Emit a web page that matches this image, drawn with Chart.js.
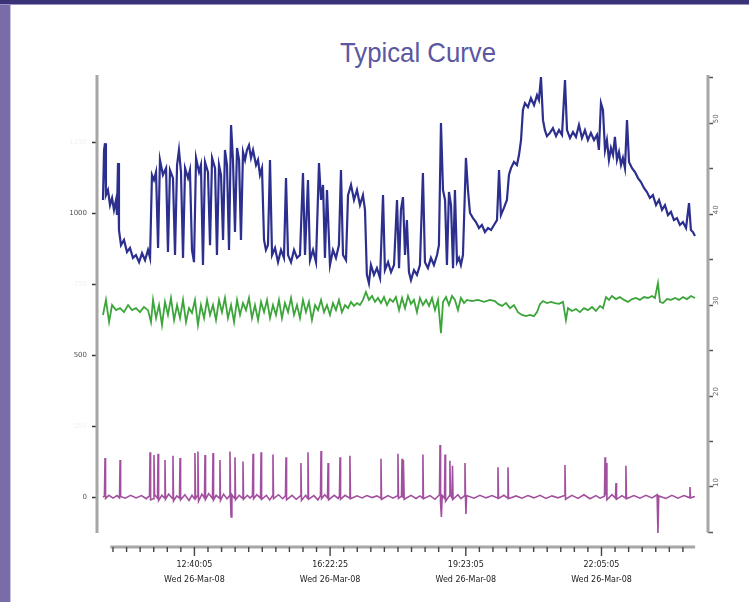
<!DOCTYPE html>
<html>
<head>
<meta charset="utf-8">
<script src="https://cdn.jsdelivr.net/npm/chart.js@4.4.1/dist/chart.umd.min.js"></script>
<style>
html, body { margin: 0; padding: 0; background: #fff; }
#page { position: relative; width: 749px; height: 602px; overflow: hidden; background: #fff; }
#topbar { position: absolute; left: 0; top: 0; width: 749px; height: 4px; background: #3b3377; border-bottom: 1px solid #9a92c4; }
#side { position: absolute; left: 0; top: 0; width: 10px; height: 602px; background: #7a6ca8; border-right: 1px solid #c9c2e2; }
#title { position: absolute; left: 340px; top: 39px; font: 28px "Liberation Sans", Arial, sans-serif; line-height: 28px;
         color: #5b57a0; transform: scaleX(0.92); transform-origin: left top; white-space: nowrap; }
canvas { position: absolute; left: 0; top: 0; }
</style>
</head>
<body>
<div id="page">
	<div id="side"></div>
	<div id="topbar"></div>
	<div id="title">Typical Curve</div>
	<canvas id="curve" width="749" height="602"></canvas>
</div>
<script>
// time axis is in tick steps (one minor tick per step)
var majorTicks = [6, 16, 26, 36];
var timeLabels = ['12:40:05', '16:22:25', '19:23:05', '22:05:05'];
var dateLabels = ['Wed 26-Mar-08', 'Wed 26-Mar-08', 'Wed 26-Mar-08', 'Wed 26-Mar-08'];
var leftTicks = [0, 250, 500, 750, 1000, 1250];
var leftLabelled = [0, 500, 1000];
var rightTicks = [5, 10, 15, 20, 25, 30, 35, 40, 45, 50, 55];
var rightLabelled = [10, 20, 30, 40, 50];

var blueTime = [
	-0.74, -0.66, -0.59, -0.52, -0.37, -0.22, -0.07, 0.07, 0.22, 0.29, 0.37, 0.44,
	0.59, 0.81, 1.03, 1.25, 1.47, 1.69, 1.92, 2.14, 2.36, 2.58, 2.73,
	2.87, 3.02, 3.17, 3.32, 3.46, 3.68, 3.91, 4.05, 4.20, 4.42, 4.57, 4.72, 4.86, 5.01,
	5.16, 5.31, 5.53, 5.67, 5.82, 5.97, 6.12, 6.34, 6.48, 6.63, 6.78, 7.00, 7.15, 7.30,
	7.52, 7.66, 7.81, 7.96, 8.11, 8.25, 8.40, 8.55, 8.70, 8.84, 8.99, 9.14, 9.29, 9.43,
	9.58, 9.73, 9.87, 10.02, 10.17, 10.32, 10.54, 10.69, 10.83, 10.98, 11.13, 11.27, 11.42,
	11.57, 11.72, 11.94, 12.16, 12.38, 12.60, 12.75, 12.90, 13.12, 13.34, 13.56, 13.78,
	14.00, 14.15, 14.37, 14.52, 14.74, 14.96, 15.18, 15.33, 15.48, 15.62, 15.77, 15.99,
	16.21, 16.43, 16.65, 16.80, 16.95, 17.17, 17.32, 17.54, 17.76, 17.98, 18.20, 18.42,
	18.57, 18.71, 18.86, 19.01, 19.23, 19.45, 19.68, 19.90, 20.04, 20.27, 20.49, 20.71,
	20.93, 21.08, 21.22, 21.37, 21.52, 21.66, 21.81, 21.96, 22.18, 22.40, 22.62, 22.84,
	22.99, 23.21, 23.43, 23.65, 23.88, 24.02, 24.17, 24.32, 24.47, 24.61, 24.76, 24.91,
	25.06, 25.20, 25.35, 25.50, 25.64, 25.79, 26.01, 26.16, 26.31, 26.53, 26.75, 26.97,
	27.19, 27.41, 27.64, 27.86, 28.08, 28.30, 28.45, 28.59, 28.81, 29.03, 29.18, 29.33,
	29.55, 29.77, 29.92, 30.07, 30.21, 30.36, 30.58, 30.80, 31.03, 31.25, 31.39, 31.54,
	31.69, 31.83, 31.98, 32.20, 32.42, 32.65, 32.87, 33.09, 33.31, 33.46, 33.68, 33.90,
	34.12, 34.34, 34.56, 34.78, 35.00, 35.22, 35.45, 35.67, 35.81, 35.96, 36.11, 36.26,
	36.40, 36.55, 36.70, 36.85, 36.99, 37.14, 37.29, 37.44, 37.58, 37.73, 37.88, 38.03,
	38.25, 38.47, 38.69, 38.91, 39.13, 39.35, 39.57, 39.79, 40.02, 40.24, 40.46, 40.68,
	40.90, 41.12, 41.34, 41.56, 41.78, 42.00, 42.23, 42.45, 42.59, 42.74, 42.89
];
var blueLevel = [
	1046, 1222, 1246, 1063, 1081, 1028, 1053, 1011, 1046, 993, 1176, 940,
	887, 905, 863, 877, 842, 852, 827, 859, 834, 870, 842,
	1134, 1116, 1144, 877, 1187, 1134, 1158, 863, 1151, 1123, 852, 1169, 1222, 1144,
	842, 1158, 1123, 1151, 870, 827, 1194, 1144, 1169, 817, 1180, 1144, 887, 1194,
	1158, 852, 1169, 1134, 905, 1222, 1169, 870, 1310, 1187, 933, 1229, 1187, 905,
	1215, 1187, 1222, 1239, 1194, 1222, 1169, 1187, 1134, 1158, 905, 870, 887,
	1187, 852, 877, 827, 870, 842, 1123, 852, 827, 870, 842, 852,
	1141, 852, 1116, 834, 870, 827, 1176, 1046, 1099, 842, 1081, 817,
	870, 842, 887, 1151, 852, 834, 1063, 1099, 1046, 1081, 1028, 1063,
	1011, 782, 753, 817, 782, 806, 771, 1063, 799, 827, 792, 817,
	1046, 806, 1011, 1056, 852, 975, 792, 764, 799, 782, 817, 1141,
	827, 806, 842, 817, 852, 887, 1317, 1081, 1046, 817, 1074, 1028,
	806, 1081, 827, 842, 817, 852, 1194, 1081, 1000, 982, 968, 947,
	958, 933, 947, 940, 958, 975, 1151, 993, 1018, 1046, 1134, 1158,
	1180, 1169, 1204, 1257, 1363, 1387, 1373, 1405, 1380, 1415, 1398, 1479,
	1327, 1292, 1271, 1282, 1299, 1271, 1292, 1275, 1468, 1292, 1264, 1285,
	1268, 1310, 1264, 1292, 1257, 1282, 1257, 1275, 1222, 1387, 1363, 1222,
	1257, 1187, 1229, 1204, 1268, 1187, 1215, 1169, 1194, 1158, 1327, 1180,
	1158, 1144, 1123, 1109, 1088, 1074, 1053, 1063, 1028, 1046, 1011, 1028,
	993, 1004, 975, 982, 958, 968, 947, 1035, 940, 933, 919
];

var greenTime = [
	-0.74, -0.52, -0.29, -0.07, 0.22, 0.52, 0.81, 1.11, 1.40, 1.69, 1.99, 2.28, 2.58,
	2.80, 2.95, 3.17, 3.39, 3.61, 3.83, 4.05, 4.27, 4.50, 4.72, 4.94, 5.16, 5.38, 5.60,
	5.82, 6.04, 6.26, 6.48, 6.71, 6.93, 7.15, 7.37, 7.59, 7.81, 8.03, 8.25, 8.47, 8.70,
	8.92, 9.14, 9.36, 9.58, 9.80, 10.02, 10.24, 10.46, 10.69, 10.91, 11.13, 11.35, 11.57,
	11.79, 12.01, 12.23, 12.45, 12.67, 12.90, 13.12, 13.34, 13.56, 13.78, 14.00, 14.22,
	14.44, 14.66, 14.89, 15.11, 15.33, 15.55, 15.77, 15.99, 16.21, 16.43, 16.65, 16.87,
	17.10, 17.32, 17.54, 17.76, 17.98, 18.20, 18.42, 18.64, 18.86, 19.09, 19.31, 19.53,
	19.75, 19.97, 20.19, 20.41, 20.63, 20.85, 21.08, 21.30, 21.52, 21.74, 21.96, 22.18,
	22.40, 22.62, 22.84, 23.07, 23.29, 23.51, 23.73, 23.95, 24.17, 24.32, 24.54, 24.76,
	24.98, 25.20, 25.42, 25.64, 25.87, 26.09, 26.45, 26.90, 27.34, 27.78, 28.15, 28.37,
	28.67, 28.96, 29.26, 29.55, 29.84, 30.14, 30.43, 30.73, 31.02, 31.25, 31.47, 31.69,
	31.98, 32.28, 32.57, 32.87, 33.16, 33.38, 33.53, 33.82, 34.12, 34.41, 34.71, 35.00,
	35.30, 35.59, 35.89, 36.11, 36.33, 36.55, 36.77, 37.07, 37.36, 37.66, 37.95, 38.25,
	38.54, 38.83, 39.13, 39.43, 39.72, 39.94, 40.16, 40.31, 40.53, 40.83, 41.12, 41.42,
	41.71, 42.01, 42.30, 42.60, 42.89
];
var greenLevel = [
	641, 694, 616, 676, 658, 665, 651, 676, 658, 665, 651, 669, 658,
	616, 694, 630, 676, 606, 687, 641, 701, 623, 676, 630, 694, 616, 665,
	648, 694, 606, 676, 630, 694, 641, 676, 623, 694, 651, 701, 630, 676,
	616, 694, 641, 683, 658, 701, 630, 676, 623, 687, 651, 694, 630,
	676, 641, 694, 630, 683, 651, 701, 641, 676, 630, 694, 651,
	687, 623, 676, 658, 694, 651, 676, 641, 683, 658, 694, 651,
	676, 665, 687, 673, 683, 676, 694, 722, 694, 708, 687, 701,
	683, 704, 676, 697, 687, 704, 658, 701, 665, 708, 680, 694,
	651, 701, 676, 694, 673, 701, 658, 694, 577, 687, 704, 676,
	708, 694, 658, 701, 683, 694, 690, 694, 687, 694, 690, 680,
	673, 683, 665, 676, 651, 641, 637, 641, 637, 651, 680, 690,
	683, 687, 683, 680, 687, 623, 665, 655, 662, 651, 665, 658,
	669, 655, 673, 665, 704, 694, 708, 697, 704, 694, 687, 697,
	701, 694, 704, 701, 708, 701, 753, 687, 683, 697, 694, 701,
	694, 704, 697, 708, 701
];

var purpleTime = [
	-0.74, -0.63, -0.59, -0.55, -0.30, 0.00, 0.30, 0.48, 0.52, 0.56, 0.90, 1.30, 1.70,
	2.10, 2.45, 2.69, 2.73, 2.77, 2.98, 3.02, 3.06, 3.28, 3.32, 3.36, 3.60, 3.79, 3.83,
	3.87, 4.10, 4.38, 4.42, 4.46, 4.70, 4.90, 4.94, 4.98, 5.30, 5.60, 5.82, 6.00, 6.04,
	6.08, 6.22, 6.26, 6.30, 6.55, 6.74, 6.78, 6.82, 7.05, 7.33, 7.37, 7.41, 7.60, 7.84,
	7.88, 7.92, 8.15, 8.40, 8.58, 8.62, 8.66, 8.70, 8.76, 8.95, 8.99, 9.03, 9.30, 9.54,
	9.58, 9.62, 9.90, 10.10, 10.28, 10.32, 10.36, 10.60, 10.87, 10.91, 10.95, 11.30, 11.55,
	11.75, 11.79, 11.83, 12.20, 12.50, 12.71, 12.75, 12.79, 13.20, 13.50, 13.81, 13.85,
	13.89, 14.20, 14.33, 14.37, 14.41, 14.80, 15.10, 15.29, 15.33, 15.37, 15.60, 15.81,
	15.85, 15.89, 16.30, 16.60, 16.69, 16.73, 16.77, 17.10, 17.42, 17.46, 17.50, 17.98,
	18.35, 18.71, 19.09, 19.45, 19.71, 19.75, 19.79, 20.27, 20.63, 20.96, 21.00, 21.04,
	21.26, 21.30, 21.34, 21.40, 21.46, 21.96, 22.33, 22.62, 22.80, 22.84, 22.88, 23.36,
	23.73, 24.06, 24.10, 24.14, 24.20, 24.26, 24.43, 24.47, 24.51, 24.79, 24.83, 24.87,
	24.98, 25.02, 25.06, 25.42, 25.64, 25.90, 25.94, 25.98, 26.01, 26.06, 26.60, 27.04,
	27.49, 27.93, 28.33, 28.37, 28.41, 28.81, 29.07, 29.11, 29.15, 29.70, 30.14, 30.58,
	31.02, 31.47, 31.91, 32.35, 32.79, 33.27, 33.31, 33.35, 33.82, 34.27, 34.71, 35.15,
	35.59, 35.89, 36.22, 36.26, 36.30, 36.36, 36.40, 36.77, 37.03, 37.07, 37.11, 37.51,
	37.76, 37.80, 37.84, 38.39, 38.83, 39.28, 39.72, 40.10, 40.16, 40.22, 40.75, 41.19,
	41.63, 42.08, 42.48, 42.52, 42.56, 42.89
];
var purpleLevel = [
	0, 4, 137, -5, 6, -4, 5, -3, 130, 2, -4, 6, -3,
	5, -6, 4, 158, -10, -6, 148, 8, -4, 152, -12, 6, -3, 130,
	-8, 10, -5, 145, -14, 4, -4, 137, -10, 8, -12, 6, -6, 155,
	-6, 4, 160, -15, 10, -4, 148, -8, 12, -5, 155, -10, 6, -4,
	130, -12, 10, -6, 4, 160, -10, -70, 8, -4, 140, -10, 6, -4,
	125, -8, 6, -4, 5, 152, -6, 8, -4, 158, -8, 6, -10,
	4, 150, -6, 8, -6, 4, 140, -10, 6, -8, 4, 120,
	-12, 6, -4, 158, -8, 5, -10, 5, 162, -6, 8, -3,
	120, -10, 6, -5, 4, 140, -8, 6, -3, 145, -6, 4,
	-3, 5, -2, 4, -3, 135, -8, 5, -4, 4, 152, -5,
	3, 135, -3, 130, -8, 6, -5, 4, -3, 150, -6, 5,
	-8, 8, 183, -20, -70, 5, -4, 150, -15, 4, 128, 10,
	-3, 110, -8, 8, -6, 4, 120, -6, -60, 5, -4, 6,
	-3, 5, -3, 105, -5, 6, -3, 105, -6, 4, -4, 5,
	-3, 6, -5, 4, -3, 5, 113, -8, 6, -5, 8, -6,
	5, -4, 3, 140, 5, 120, -10, 8, -4, 49, -8, 5,
	-3, 110, -6, 5, -4, 6, -3, 8, -127, 4, -5, 6,
	-4, 5, -2, 35, -3, 2
];

// where the detached axis lines start and stop
var leftAxisEnds = [-127, 1486];
var rightAxisEnds = [5, 55.3];
var timeAxisEnds = [-0.2, 42.9];

function pairs(ts, vs) {
	return ts.map(function (t, i) { return { x: t, y: vs[i] }; });
}

var minorTicks = [];
for (var k = 0; k <= 42; k++) minorTicks.push(k);

const axisLines = {
	id: 'axisLines',
	afterDraw: (chart) => {
		const { ctx, chartArea } = chart;
		const x = chart.scales.x, y = chart.scales.y, y1 = chart.scales.y1;
		ctx.save();
		ctx.strokeStyle = '#a6a6a6';
		ctx.lineWidth = 3;
		ctx.beginPath();
		ctx.moveTo(chartArea.left, y.getPixelForValue(leftAxisEnds[0]));
		ctx.lineTo(chartArea.left, y.getPixelForValue(leftAxisEnds[1]));
		ctx.moveTo(chartArea.right, y1.getPixelForValue(rightAxisEnds[0]));
		ctx.lineTo(chartArea.right, y1.getPixelForValue(rightAxisEnds[1]));
		ctx.moveTo(x.getPixelForValue(timeAxisEnds[0]), chartArea.bottom);
		ctx.lineTo(x.getPixelForValue(timeAxisEnds[1]), chartArea.bottom);
		ctx.stroke();
		ctx.strokeStyle = '#444';
		ctx.lineWidth = 1.4;
		ctx.beginPath();
		minorTicks.forEach(t => {
			const px = x.getPixelForValue(t);
			const len = majorTicks.indexOf(t) >= 0 ? 9 : 5;
			ctx.moveTo(px, chartArea.bottom);
			ctx.lineTo(px, chartArea.bottom + len);
		});
		ctx.stroke();
		ctx.restore();
	}
};

new Chart(document.getElementById('curve'), {
	type: 'line',
	data: {
		datasets: [
			{ data: pairs(blueTime, blueLevel), borderColor: '#2c2f8e', borderWidth: 2.2, yAxisID: 'y' },
			{ data: pairs(greenTime, greenLevel), borderColor: '#3ca53a', borderWidth: 1.8, yAxisID: 'y' },
			{ data: pairs(purpleTime, purpleLevel), borderColor: '#a24f9f', borderWidth: 1.6, yAxisID: 'y' }
		]
	},
	options: {
		responsive: false,
		animation: false,
		layout: { padding: { left: 57, right: 5, top: 75, bottom: 15 } },
		elements: { point: { radius: 0 }, line: { tension: 0 } },
		plugins: { legend: { display: false }, tooltip: { enabled: false } },
		scales: {
			x: {
				type: 'linear', min: -1.18, max: 43.85,
				afterFit: (s) => { s.height = 40; },
				afterBuildTicks: (s) => { s.ticks = majorTicks.map(v => ({ value: v })); },
				grid: { display: false, drawTicks: false },
				border: { display: false },
				ticks: {
					padding: 11, maxRotation: 0, autoSkip: false,
					font: { family: 'DejaVu Sans', size: 8, lineHeight: 1.8 },
					color: '#222',
					callback: (v) => {
						const i = majorTicks.indexOf(v);
						return i < 0 ? '' : [timeLabels[i], dateLabels[i]];
					}
				}
			},
			y: {
				position: 'left', min: -176, max: 1486,
				afterFit: (s) => { s.width = 40; },
				afterBuildTicks: (s) => { s.ticks = leftTicks.map(v => ({ value: v })); },
				grid: { drawOnChartArea: false, tickLength: 5, tickColor: '#333', tickWidth: 1.5 },
				border: { display: false },
				ticks: {
					padding: 5,
					font: { family: 'DejaVu Sans', size: 7 },
					color: (c) => leftLabelled.indexOf(c.tick.value) >= 0 ? '#555' : '#f1f1f1',
					callback: (v) => String(v)
				}
			},
			y1: {
				position: 'right', min: 3.4, max: 55.3,
				afterFit: (s) => { s.width = 36; },
				afterBuildTicks: (s) => { s.ticks = rightTicks.map(v => ({ value: v })); },
				grid: { drawOnChartArea: false, tickLength: 5, tickColor: '#555', tickWidth: 1.5 },
				border: { display: false },
				ticks: {
					padding: 3, minRotation: 90, maxRotation: 90,
					font: { family: 'DejaVu Sans', size: 7 },
					color: '#666',
					callback: (v) => rightLabelled.indexOf(v) >= 0 ? String(v) : ''
				}
			}
		}
	},
	plugins: [axisLines]
});
</script>
</body>
</html>
